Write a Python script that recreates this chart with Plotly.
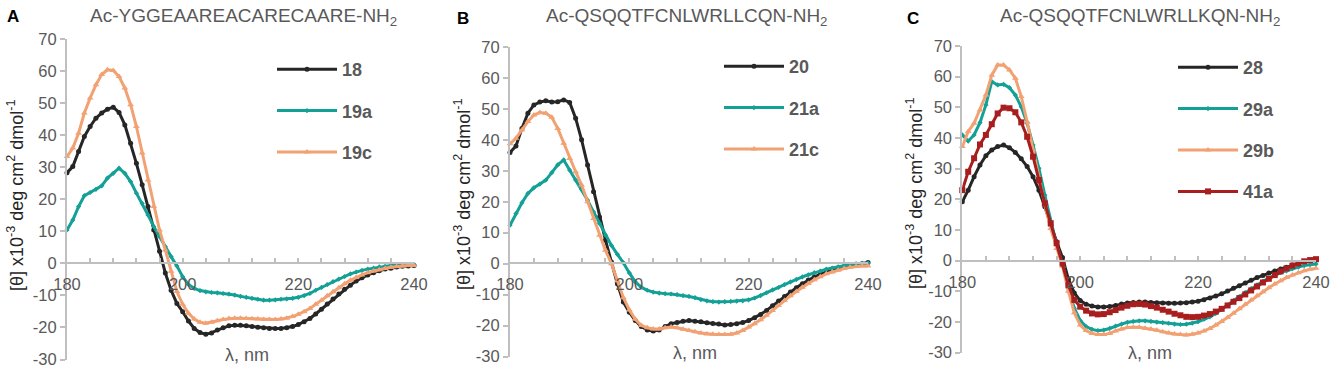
import plotly.graph_objects as go

# ---------------- data ----------------
wavelength = list(range(180, 241))  # nm, 1 nm steps

A_18 = [28.3, 30.2, 34.9, 39.6, 42.7, 45.3, 46.9, 48.1, 48.7, 47.1,
        43.2, 37.5, 31.2, 24.5, 17.7, 10.4, 3.8, -3.0, -8.4, -12.5,
        -15.1, -18.0, -20.3, -21.6, -22.1, -21.7, -20.8, -20.1, -19.5, -19.3,
        -19.3, -19.5, -19.7, -19.9, -20.1, -20.3, -20.3, -20.3, -20.1, -19.7,
        -19.1, -18.2, -17.2, -15.8, -14.3, -12.7, -11.1, -9.6, -8.1, -6.8,
        -5.5, -4.5, -3.6, -2.9, -2.3, -1.8, -1.5, -1.1, -0.9, -0.8, -0.7]
A_19a = [10.4, 13.5, 17.7, 21.1, 22.1, 23.1, 24.2, 26.6, 28.1, 29.7,
         28.1, 25.5, 21.9, 18.7, 15.1, 11.5, 8.3, 5.2, 2.1, -0.8,
         -4.2, -6.6, -7.8, -8.5, -8.9, -9.1, -9.2, -9.4, -9.6, -9.9,
         -10.3, -10.6, -10.9, -11.2, -11.5, -11.5, -11.4, -11.2, -11.1, -10.9,
         -10.6, -10.1, -9.4, -8.4, -7.5, -6.6, -5.7, -4.9, -4.1, -3.3,
         -2.7, -2.2, -1.8, -1.5, -1.1, -0.9, -0.7, -0.6, -0.5, -0.5, -0.4]
A_19c = [33.3, 36.0, 40.6, 46.9, 51.6, 55.7, 58.9, 60.4, 60.2, 58.3,
         54.7, 49.5, 42.7, 34.4, 26.0, 17.7, 10.4, 4.2, -2.5, -8.8,
         -12.8, -15.6, -17.4, -18.4, -18.7, -18.4, -17.9, -17.5, -17.2, -17.1,
         -17.1, -17.2, -17.3, -17.4, -17.5, -17.5, -17.5, -17.4, -17.1, -16.6,
         -15.9, -15.1, -14.1, -12.8, -11.5, -10.1, -8.9, -7.6, -6.4, -5.3,
         -4.4, -3.6, -2.9, -2.4, -2.0, -1.6, -1.2, -1.0, -0.8, -0.7, -0.7]

B_20 = [35.9, 38.0, 43.7, 48.6, 51.3, 52.2, 52.6, 52.2, 52.3, 52.9,
        52.1, 47.0, 40.0, 31.9, 23.2, 15.1, 7.6, 0.5, -6.5, -12.4,
        -15.7, -18.4, -20.3, -21.4, -21.8, -21.4, -20.3, -19.4, -19.0, -18.6,
        -18.4, -18.6, -18.8, -19.1, -19.3, -19.5, -19.8, -19.7, -19.4, -19.0,
        -18.4, -17.5, -16.4, -15.1, -13.6, -12.1, -10.6, -9.2, -7.8, -6.5,
        -5.3, -4.3, -3.5, -2.7, -2.1, -1.5, -1.0, -0.5, -0.2, 0.0, 0.4]
B_21a = [12.4, 16.2, 19.7, 22.7, 24.5, 25.7, 27.0, 29.4, 31.9, 33.5,
         30.2, 27.0, 24.0, 20.5, 16.7, 13.0, 9.2, 5.9, 3.0, 0.3,
         -3.0, -5.9, -7.6, -8.6, -9.2, -9.5, -9.7, -9.8, -10.0, -10.3,
         -10.6, -11.0, -11.6, -12.0, -12.3, -12.4, -12.3, -12.2, -12.1, -12.0,
         -11.7, -11.1, -10.3, -9.4, -8.5, -7.7, -6.8, -5.9, -5.1, -4.3,
         -3.6, -2.9, -2.4, -1.8, -1.4, -1.0, -0.6, -0.3, -0.1, 0.1, 0.2]
B_21c = [38.7, 40.5, 43.2, 45.9, 48.0, 48.8, 48.6, 47.3, 43.7, 38.9,
         34.0, 29.7, 25.4, 20.0, 14.6, 9.2, 4.3, 0.0, -5.5, -11.0,
         -15.0, -18.0, -20.0, -20.7, -21.1, -21.1, -20.7, -20.5, -20.7, -21.2,
         -21.6, -22.0, -22.4, -22.7, -22.8, -22.9, -22.9, -22.8, -22.4, -21.6,
         -20.5, -19.4, -18.1, -16.7, -15.1, -13.5, -11.9, -10.4, -9.0, -7.6,
         -6.4, -5.2, -4.2, -3.3, -2.7, -2.1, -1.6, -1.2, -0.9, -0.75, -0.75]

C_28 = [19.2, 23.0, 27.4, 31.2, 34.2, 36.1, 37.2, 37.7, 36.8, 35.3,
        33.2, 30.7, 27.4, 23.0, 17.6, 11.6, 6.2, 1.0, -6.0, -10.5,
        -13.0, -14.2, -14.8, -15.1, -15.1, -14.9, -14.6, -14.1, -13.8, -13.6,
        -13.5, -13.5, -13.6, -13.7, -13.8, -13.9, -13.9, -13.8, -13.7, -13.5,
        -13.2, -12.7, -12.2, -11.5, -10.8, -9.9, -9.0, -8.2, -7.3, -6.4,
        -5.5, -4.8, -4.0, -3.4, -2.7, -2.1, -1.4, -0.9, -0.4, -0.1, 0.2]
C_29a = [41.0, 39.0, 41.0, 45.0, 50.8, 58.4, 57.3, 57.5, 56.4, 54.0,
         50.2, 44.8, 37.7, 30.1, 21.4, 12.7, 5.1, -1.4, -9.0, -15.5,
         -19.5, -21.5, -22.4, -22.8, -22.6, -22.1, -21.3, -20.7, -20.1, -19.8,
         -19.6, -19.6, -19.8, -20.0, -20.2, -20.4, -20.7, -20.8, -20.7, -20.4,
         -19.9, -19.1, -18.3, -17.2, -15.9, -14.5, -13.0, -11.7, -10.4, -9.1,
         -7.9, -6.7, -5.7, -4.7, -3.9, -3.3, -2.6, -2.1, -1.6, -1.3, -1.1]
C_29b = [37.2, 42.1, 44.8, 49.1, 54.0, 60.5, 63.8, 63.8, 62.2, 59.5,
         53.5, 45.3, 36.1, 26.8, 18.2, 10.5, 4.0, -1.8, -10.0, -17.0,
         -21.0, -22.8, -23.7, -24.1, -24.1, -23.7, -22.9, -22.3, -21.8, -21.7,
         -21.7, -22.0, -22.3, -22.7, -23.2, -23.6, -23.9, -24.1, -24.2, -24.0,
         -23.6, -22.9, -22.1, -21.0, -19.8, -18.5, -17.1, -15.7, -14.2, -12.8,
         -11.4, -10.1, -8.8, -7.6, -6.5, -5.5, -4.7, -3.9, -3.3, -2.8, -2.5]
C_41a = [23.0, 29.0, 33.4, 37.9, 41.0, 44.5, 48.0, 49.9, 49.7, 48.4,
         45.1, 40.4, 33.9, 26.3, 18.7, 12.2, 5.7, -0.9, -8.0, -12.8,
         -15.0, -16.3, -17.2, -17.5, -17.4, -16.8, -16.1, -15.3, -14.7, -14.2,
         -14.1, -14.3, -14.8, -15.3, -16.0, -16.6, -17.3, -17.8, -18.3, -18.4,
         -18.3, -17.9, -17.4, -16.6, -15.7, -14.6, -13.4, -12.2, -11.0, -9.7,
         -8.4, -7.1, -5.9, -4.7, -3.5, -2.5, -1.6, -0.9, -0.2, 0.2, 0.5]

panel_letters = ["A", "B", "C"]
panel_titles = ["Ac-YGGEAAREACARECAARE-NH<sub>2</sub>",
                "Ac-QSQQTFCNLWRLLCQN-NH<sub>2</sub>",
                "Ac-QSQQTFCNLWRLLKQN-NH<sub>2</sub>"]
y_tickvals = [-30, -20, -10, 0, 10, 20, 30, 40, 50, 60, 70]
y_ticktext = ["-30", "-20", "-10", "0", "10", "20", "30", "40", "50", "60", "70"]
x_tickvals = [180, 200, 220, 240]
x_ticktext = ["180", "200", "220", "240"]
y_title = "[θ] x10<sup>-3</sup> deg cm<sup>2</sup> dmol<sup>-1</sup>"
x_title = "λ, nm"

panels = [
    [("18", A_18, "black"), ("19a", A_19a, "teal"), ("19c", A_19c, "orange")],
    [("20", B_20, "black"), ("21a", B_21a, "teal"), ("21c", B_21c, "orange")],
    [("28", C_28, "black"), ("29a", C_29a, "teal"), ("29b", C_29b, "orange"), ("41a", C_41a, "red")],
]

# ---------------- styling ----------------
W, H = 1330, 372
FONT = "Liberation Sans, Arial, sans-serif"
GRAY_TXT = "#595959"
AXIS_CLR = "#bfbfbf"
styles = {
    "black": dict(color="#262626", symbol="circle", size=5),
    "teal": dict(color="#13A096", symbol="diamond", size=4),
    "orange": dict(color="#F2A173", symbol="triangle-up", size=6),
    "red": dict(color="#A81E1E", symbol="square", size=6),
}

# pixel geometry of each panel: x(180), x(240), y(70), y(-30), y(0)
geom = [
    dict(x0=67, x1=414, ytop=39, ybot=359.5, yzero=263.3,
         letter=(13, 17), title=(243, 17), ytitle=(15, 195), xtitle=(247, 355),
         legend=(272, 51)),
    dict(x0=510, x1=868, ytop=47, ybot=356.5, yzero=263.3,
         letter=(463, 19), title=(687, 17), ytitle=(462, 194), xtitle=(695, 353),
         legend=(719, 48)),
    dict(x0=962.3, x1=1316, ytop=46, ybot=352.7, yzero=260.7,
         letter=(913, 19), title=(1140, 17), ytitle=(914, 193), xtitle=(1150, 353),
         legend=(1173, 49)),
]

def px(x):
    return x / W

def py(y):
    return 1 - y / H

fig = go.Figure()
layout = dict(width=W, height=H, autosize=False,
              margin=dict(l=0, r=0, t=0, b=0, pad=0),
              paper_bgcolor="white", plot_bgcolor="white",
              font=dict(family=FONT, color=GRAY_TXT),
              annotations=[])

for i, (series, g) in enumerate(zip(panels, geom)):
    sfx = "" if i == 0 else str(i + 1)
    xa, ya = "x" + sfx, "y" + sfx
    leg = "legend" + sfx
    for name, vals, key in series:
        st = styles[key]
        fig.add_trace(go.Scatter(
            x=wavelength, y=vals, name="<b>%s</b>" % name,
            mode="lines+markers", xaxis=xa, yaxis=ya, legend=leg,
            legendgroup=name, cliponaxis=False,
            line=dict(color=st["color"], width=3),
            marker=dict(color=st["color"], symbol=st["symbol"], size=st["size"]),
        ))
    layout["xaxis" + sfx] = dict(
        domain=[px(g["x0"]), px(g["x1"])], range=[180, 240],
        anchor="free", position=py(g["yzero"]),
        showline=True, linecolor=AXIS_CLR, linewidth=2,
        ticks="inside", ticklen=4, tickwidth=1.5, tickcolor=AXIS_CLR,
        tickvals=x_tickvals, ticktext=x_ticktext,
        minor=dict(tick0=180, dtick=4, ticks="inside", ticklen=4,
                   tickwidth=1.5, tickcolor=AXIS_CLR, showgrid=False),
        ticklabelstandoff=6,
        tickfont=dict(family=FONT, size=16.5, color=GRAY_TXT),
        showgrid=False, zeroline=False, automargin=False, fixedrange=True,
    )
    layout["yaxis" + sfx] = dict(
        domain=[py(g["ybot"]), py(g["ytop"])], range=[-30, 70],
        anchor=xa, showline=True, linecolor=AXIS_CLR, linewidth=2,
        ticks="outside", ticklen=5, tickwidth=1.5, tickcolor=AXIS_CLR,
        tickvals=y_tickvals, ticktext=y_ticktext,
        tickfont=dict(family=FONT, size=16.5, color=GRAY_TXT),
        showgrid=False, zeroline=False, automargin=False, fixedrange=True,
    )
    layout[leg] = dict(
        x=px(g["legend"][0]), y=py(g["legend"][1]),
        xanchor="left", yanchor="top", bgcolor="rgba(0,0,0,0)",
        font=dict(family=FONT, size=18, color=GRAY_TXT),
        tracegroupgap=15, itemwidth=60, traceorder="grouped",
    )
    ann = layout["annotations"]
    ann.append(dict(text="<b>%s</b>" % panel_letters[i], xref="paper", yref="paper",
                    x=px(g["letter"][0]), y=py(g["letter"][1]),
                    xanchor="center", yanchor="middle", showarrow=False,
                    font=dict(family=FONT, size=17, color="black")))
    ann.append(dict(text=panel_titles[i], xref="paper", yref="paper",
                    x=px(g["title"][0]), y=py(g["title"][1]),
                    xanchor="center", yanchor="middle", showarrow=False,
                    font=dict(family=FONT, size=19, color=GRAY_TXT)))
    ann.append(dict(text=y_title, xref="paper", yref="paper", textangle=-90,
                    x=px(g["ytitle"][0]), y=py(g["ytitle"][1]),
                    xanchor="center", yanchor="middle", showarrow=False,
                    font=dict(family=FONT, size=18, color="#262626")))
    ann.append(dict(text=x_title, xref="paper", yref="paper",
                    x=px(g["xtitle"][0]), y=py(g["xtitle"][1]),
                    xanchor="center", yanchor="middle", showarrow=False,
                    font=dict(family=FONT, size=18, color=GRAY_TXT)))

fig.update_layout(**layout)
fig.write_html("out.html", config=dict(displayModeBar=False),
               post_script="document.body.style.margin='0';document.body.style.overflow='hidden';")
